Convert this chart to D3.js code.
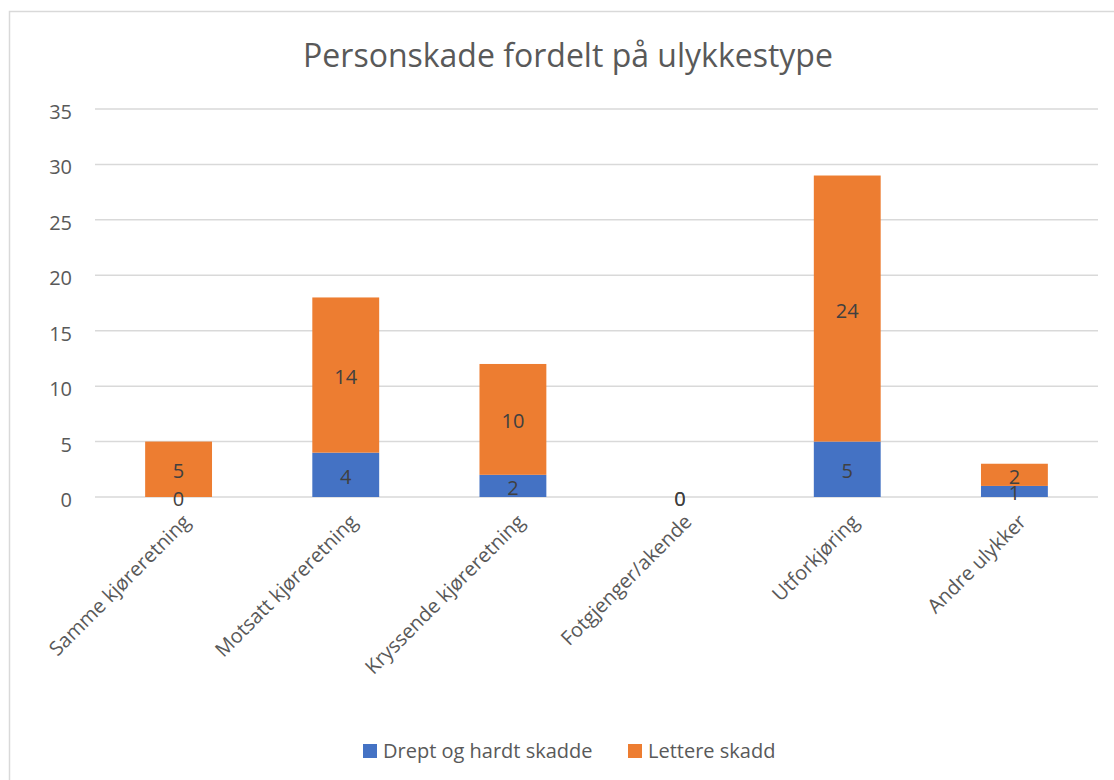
<!DOCTYPE html>
<html>
<head>
<meta charset="utf-8">
<script src="https://cdn.jsdelivr.net/npm/d3@7"></script>
<style>
body{margin:0;background:#fff;}
text{font-family:"Open Sans","Noto Sans",sans-serif;}
</style>
</head>
<body>
<script>
//Data
var categories = ["Samme kjøreretning","Motsatt kjøreretning","Kryssende kjøreretning","Fotgjenger/akende","Utforkjøring","Andre ulykker"]
var drept = [0,4,2,0,5,1] //Drept og hardt skadde
var lettere = [5,14,10,0,24,2] //Lettere skadd
var seriesNames = ["Drept og hardt skadde","Lettere skadd"]
var seriesColors = ["#4472C4","#ED7D31"]
var yTicks = [0,5,10,15,20,25,30,35]

var W = 1114, H = 780
var svg = d3.select("body").append("svg").attr("width",W).attr("height",H)

//Chart border
svg.append("rect").attr("x",9.5).attr("y",11.5).attr("width",1120).attr("height",800)
    .attr("fill","#fff").attr("stroke","#d9d9d9").attr("stroke-width",1.5)

//Title
svg.append("text").attr("x",568).attr("y",67).attr("text-anchor","middle")
    .attr("font-size",32).attr("fill","#595959").text("Personskade fordelt på ulykkestype")

//Scales
var x = d3.scaleBand().domain(categories).range([95,1098]).paddingInner(0.6).paddingOuter(0.3)
var y = d3.scaleLinear().domain([0,35]).range([497,109])

//Gridlines
svg.selectAll(".grid").data(yTicks).enter().append("line")
    .attr("x1",95).attr("x2",1098)
    .attr("y1",function(d){return y(d)}).attr("y2",function(d){return y(d)})
    .attr("stroke","#d9d9d9").attr("stroke-width",1.5)

//Y axis labels
svg.selectAll(".ylab").data(yTicks).enter().append("text")
    .attr("x",72).attr("y",function(d){return y(d)+3}).attr("dy","0.35em")
    .attr("text-anchor","end").attr("font-size",20).attr("fill","#595959")
    .text(function(d){return d})

//Stacked data
var rows = categories.map(function(c,i){return {cat:c, a:drept[i], b:lettere[i]}})
var stack = d3.stack().keys(["a","b"])(rows)

var groups = svg.selectAll(".series").data(stack).enter().append("g")
    .attr("fill",function(d,i){return seriesColors[i]})
groups.selectAll("rect").data(function(d){return d}).enter().append("rect")
    .attr("x",function(d){return x(d.data.cat)})
    .attr("width",x.bandwidth())
    .attr("y",function(d){return y(d[1])})
    .attr("height",function(d){return y(d[0])-y(d[1])})

//Data labels
stack.forEach(function(s){
    svg.selectAll(".lab"+s.key).data(s).enter().append("text")
        .attr("x",function(d){return x(d.data.cat)+x.bandwidth()/2})
        .attr("y",function(d){return (y(d[0])+y(d[1]))/2+2})
        .attr("dy","0.35em").attr("text-anchor","middle")
        .attr("font-size",20).attr("fill","#404040")
        .text(function(d){return d[1]-d[0]})
})

//X axis labels rotated
svg.selectAll(".xlab").data(categories).enter().append("text")
    .attr("transform",function(d){return "translate("+(x(d)+x.bandwidth()/2+8)+",518) rotate(-45)"})
    .attr("text-anchor","end").attr("dy","0.35em")
    .attr("font-size",20).attr("fill","#595959")
    .text(function(d){return d})

//Legend
var legend = svg.append("g")
var legX = [363,628]
seriesNames.forEach(function(n,i){
    legend.append("rect").attr("x",legX[i]).attr("y",744).attr("width",14).attr("height",14).attr("fill",seriesColors[i])
    legend.append("text").attr("x",legX[i]+20).attr("y",751).attr("dy","0.35em")
        .attr("font-size",20).attr("fill","#595959").text(n)
})
</script>
</body>
</html>
